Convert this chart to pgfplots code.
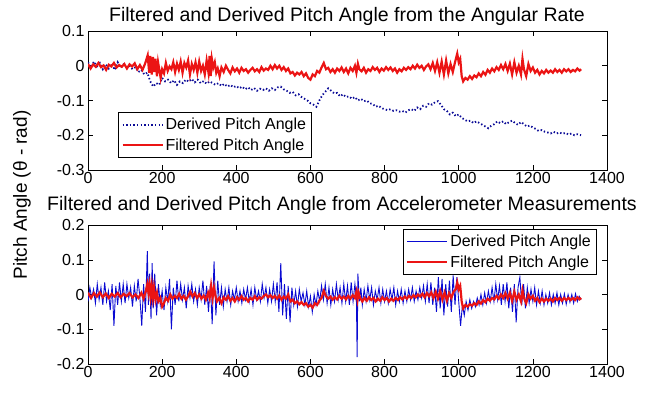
\documentclass[border=0pt]{standalone}
\usepackage{fontspec}
\setmainfont{Liberation Sans}
\usepackage{pgfplots}
\pgfplotsset{compat=1.18}

\definecolor{mred}{RGB}{235,20,20}
\definecolor{mblue}{RGB}{10,10,210}
\definecolor{mnavy}{RGB}{10,10,150}

\pgfplotsset{
  matlab/.style={
    scale only axis,
    width=519pt, height=139pt,
    xmin=0, xmax=1400,
    xtick={0,200,...,1400},
    xticklabels={0,200,400,600,800,1000,1200,1400},
    tick pos=both, tick align=inside,
    major tick length=5pt,
    tick style={black, line width=0.5pt},
    axis line style={line width=0.6pt},
    /pgf/number format/assume math mode=true,
    ticklabel style={font=\fontsize{16}{18}\selectfont},
    xticklabel style={yshift=1pt},
    legend cell align=left,
    legend style={font=\fontsize{16}{18}\selectfont, draw=black, line width=0.6pt,
      inner xsep=3pt, inner ysep=4pt, row sep=3pt},
    legend image code/.code={\draw[#1] (0pt,0pt) -- (40pt,0pt);},
  },
}

\begin{document}
\begin{tikzpicture}[x=1pt,y=1pt]
\path (0,0) rectangle (647,393);

% ---------- top: angular rate ----------
\begin{axis}[matlab,
  at={(88pt,223pt)}, anchor=south west,
  ymin=-0.3, ymax=0.1,
  ytick={-0.3,-0.2,-0.1,0,0.1},
  yticklabels={-0.3,-0.2,-0.1,0,0.1},
  legend style={at={(0.058,0.417)}, anchor=north west},
]
\addplot[mnavy, line width=1.8pt, dash pattern=on 1.4pt off 2.2pt] table {
0 0.01
8 -0.005
16 0.012
24 -0.002
32 0.008
40 -0.01
48 0.004
56 -0.008
64 0.006
72 -0.012
80 0.01
88 -0.006
96 0.004
104 -0.004
112 0.0
120 -0.01
128 -0.004
136 -0.018
144 -0.012
152 -0.025
160 -0.02
168 -0.045
176 -0.06
184 -0.05
192 -0.055
200 -0.035
208 -0.045
216 -0.04
224 -0.05
232 -0.042
240 -0.055
248 -0.045
256 -0.05
264 -0.04
272 -0.046
280 -0.038
288 -0.048
296 -0.04
304 -0.05
312 -0.044
320 -0.052
328 -0.045
336 -0.05
344 -0.055
352 -0.05
360 -0.058
368 -0.052
376 -0.06
384 -0.055
392 -0.062
400 -0.058
408 -0.065
416 -0.06
424 -0.068
432 -0.062
440 -0.07
448 -0.064
456 -0.072
464 -0.066
472 -0.07
480 -0.065
488 -0.072
496 -0.065
504 -0.07
512 -0.062
520 -0.06
528 -0.068
536 -0.072
544 -0.078
552 -0.075
560 -0.085
568 -0.082
576 -0.09
584 -0.095
592 -0.1
600 -0.108
608 -0.112
616 -0.118
624 -0.1
632 -0.085
640 -0.075
648 -0.065
656 -0.072
664 -0.08
672 -0.078
680 -0.088
688 -0.082
696 -0.09
704 -0.088
712 -0.095
720 -0.09
728 -0.1
736 -0.095
744 -0.102
752 -0.1
760 -0.108
768 -0.11
776 -0.118
784 -0.115
792 -0.122
800 -0.125
808 -0.128
816 -0.125
824 -0.13
832 -0.128
840 -0.132
848 -0.13
856 -0.135
864 -0.128
872 -0.125
880 -0.13
888 -0.12
896 -0.125
904 -0.115
912 -0.118
920 -0.108
928 -0.112
936 -0.105
944 -0.102
952 -0.112
960 -0.125
968 -0.13
976 -0.14
984 -0.135
992 -0.145
1000 -0.14
1008 -0.15
1016 -0.155
1024 -0.16
1032 -0.158
1040 -0.165
1048 -0.16
1056 -0.165
1064 -0.17
1072 -0.175
1080 -0.18
1088 -0.172
1096 -0.168
1104 -0.16
1112 -0.165
1120 -0.16
1128 -0.168
1136 -0.162
1144 -0.158
1152 -0.165
1160 -0.17
1168 -0.162
1176 -0.168
1184 -0.175
1192 -0.172
1200 -0.178
1208 -0.182
1216 -0.188
1224 -0.185
1232 -0.19
1240 -0.192
1248 -0.195
1256 -0.19
1264 -0.195
1272 -0.192
1280 -0.196
1288 -0.193
1296 -0.198
1304 -0.195
1312 -0.2
1320 -0.197
1330 -0.2
};
\addlegendentry{Derived Pitch Angle}
\addplot[mred, line width=2.2pt] table {
0 0.005
7 -0.008
14 0.004
21 -0.003
28 0.008
35 -0.004
42 0.001
49 -0.012
56 0.003
63 -0.002
70 0.008
77 -0.005
84 0.002
91 -0.003
98 0.005
105 -0.008
112 0.004
119 -0.002
126 0.007
133 -0.01
140 0.002
147 -0.012
154 0.006
161 0.03
165 -0.02
168 0.028
172 -0.025
175 0.025
179 -0.018
182 0.02
186 -0.03
189 0.01
193 -0.015
196 -0.035
200 -0.01
205 -0.022
210 0.008
215 -0.015
220 -0.002
225 -0.01
230 0.01
235 -0.018
240 0.006
245 -0.012
250 0.012
255 -0.02
260 0.008
265 -0.005
270 0.015
275 -0.025
280 0.005
285 -0.012
290 0.01
295 -0.02
300 0.012
305 -0.015
310 0.0
315 -0.025
320 0.015
325 -0.02
328 0.028
331 -0.03
334 0.02
338 -0.005
342 0.01
346 -0.02
350 -0.008
355 -0.03
360 -0.005
366 -0.018
372 0.0
378 -0.012
384 -0.022
390 -0.005
396 -0.016
402 -0.008
408 -0.02
414 -0.006
420 -0.015
426 -0.01
432 -0.02
438 -0.012
444 -0.006
450 -0.016
456 -0.01
462 -0.018
468 -0.004
474 -0.014
480 -0.008
486 -0.012
492 0.0
498 -0.01
504 0.002
510 -0.008
516 0.0
522 -0.012
528 -0.004
534 -0.015
540 -0.008
546 -0.022
552 -0.018
558 -0.028
564 -0.02
570 -0.025
576 -0.018
582 -0.03
588 -0.022
594 -0.035
600 -0.04
606 -0.025
612 -0.03
618 -0.015
624 -0.02
630 -0.005
636 0.008
642 -0.01
648 -0.006
654 -0.018
660 -0.01
666 -0.02
672 -0.008
678 -0.015
684 -0.005
690 -0.018
696 -0.008
702 -0.022
708 -0.006
714 -0.015
720 0.0
724 -0.02
728 0.006
732 -0.01
738 -0.016
744 -0.006
750 -0.02
756 -0.01
762 -0.015
768 -0.004
774 -0.012
780 -0.006
786 -0.018
792 -0.008
798 -0.014
804 -0.004
810 -0.012
816 -0.005
822 -0.015
828 -0.008
834 -0.02
840 -0.01
846 -0.016
852 -0.006
858 -0.012
864 -0.004
870 -0.01
876 0.0
882 -0.008
888 0.003
894 -0.006
900 0.0
906 -0.012
912 -0.002
918 0.004
924 -0.01
930 0.008
936 -0.015
942 0.01
948 -0.02
954 0.012
960 -0.025
966 0.015
972 -0.022
978 0.005
984 -0.018
990 0.01
996 0.035
1000 0.01
1004 0.02
1008 -0.03
1012 -0.045
1018 -0.035
1024 -0.04
1030 -0.03
1036 -0.038
1042 -0.028
1048 -0.033
1054 -0.022
1060 -0.03
1066 -0.018
1072 -0.026
1078 -0.012
1084 -0.02
1090 -0.008
1096 -0.016
1102 -0.004
1108 -0.012
1114 0.002
1120 -0.01
1126 0.005
1132 -0.015
1138 0.006
1144 -0.025
1150 0.01
1156 -0.02
1162 0.0
1168 -0.025
1172 0.02
1176 -0.01
1182 -0.03
1188 0.005
1194 -0.015
1200 -0.005
1206 -0.02
1212 -0.012
1218 -0.025
1224 -0.015
1230 -0.022
1236 -0.012
1242 -0.02
1248 -0.014
1254 -0.02
1260 -0.01
1266 -0.018
1272 -0.012
1278 -0.02
1284 -0.01
1290 -0.016
1296 -0.01
1302 -0.018
1308 -0.012
1314 -0.016
1320 -0.008
1326 -0.014
1330 -0.01
};
\addlegendentry{Filtered Pitch Angle}
\end{axis}

% ---------- bottom: accelerometer ----------
\begin{axis}[matlab,
  at={(88pt,29pt)}, anchor=south west,
  ymin=-0.2, ymax=0.2,
  ytick={-0.2,-0.1,0,0.1,0.2},
  yticklabels={-0.2,-0.1,0,0.1,0.2},
  legend style={at={(0.979,0.971)}, anchor=north east},
]
\addplot[mblue, line width=0.9pt] table {
0 -0.02
5 0.02
10 -0.01
15 0.015
20 -0.025
25 0.03
30 -0.015
35 0.02
40 -0.03
45 0.035
50 -0.02
55 0.01
60 -0.045
65 0.03
70 -0.09
75 0.025
80 -0.03
85 0.035
90 -0.02
95 0.03
100 -0.025
105 0.03
110 -0.01
115 0.02
120 -0.035
125 0.025
130 -0.02
135 0.045
140 -0.01
145 -0.09
150 0.03
155 -0.05
160 0.125
163 -0.03
166 0.06
170 -0.07
173 0.09
176 -0.04
180 0.06
185 -0.06
190 0.03
195 -0.03
200 0.01
205 -0.045
210 0.02
215 -0.02
220 0.045
225 -0.1
230 0.02
235 -0.03
240 0.04
245 -0.02
250 0.03
255 -0.015
260 0.02
265 -0.04
270 0.025
275 -0.01
280 0.03
285 -0.02
290 0.015
295 -0.03
300 0.02
305 -0.015
310 0.04
315 -0.03
320 0.025
325 -0.05
330 0.03
335 -0.085
340 0.095
345 -0.06
350 0.04
355 -0.03
360 0.02
365 -0.035
370 0.015
375 -0.02
380 0.02
385 -0.03
390 0.01
395 -0.015
400 0.02
405 -0.02
410 0.01
415 -0.025
420 0.015
425 -0.015
430 0.02
435 -0.02
440 0.015
445 -0.03
450 0.02
455 -0.015
460 0.01
465 -0.02
470 0.03
475 -0.01
480 0.02
485 -0.025
490 0.015
495 -0.02
500 0.03
505 -0.02
510 0.035
515 -0.05
520 0.09
525 -0.06
530 0.03
535 -0.07
540 0.025
545 -0.08
550 0.02
555 -0.03
560 0.01
565 -0.035
570 0.015
575 -0.02
580 0.005
585 -0.03
590 0.01
595 -0.035
600 -0.005
605 -0.05
610 0.0
615 -0.03
620 0.01
625 -0.02
630 0.025
635 -0.015
640 0.03
645 -0.025
650 0.02
655 -0.03
660 0.015
665 -0.02
670 0.03
675 -0.015
680 0.02
685 -0.025
690 0.03
695 -0.02
700 0.025
705 -0.03
710 0.035
715 -0.02
720 0.03
724 -0.01
726 -0.18
728 0.06
732 -0.02
736 0.02
740 -0.03
745 0.015
750 -0.02
755 0.025
760 -0.015
765 0.02
770 -0.03
775 0.01
780 -0.015
785 0.02
790 -0.025
795 0.015
800 -0.02
805 0.01
810 -0.025
815 0.015
820 -0.015
825 0.02
830 -0.03
835 0.01
840 -0.02
845 0.015
850 -0.025
855 0.01
860 -0.02
865 0.015
870 -0.015
875 0.02
880 -0.02
885 0.01
890 -0.015
895 0.02
900 -0.01
905 0.025
910 -0.02
915 0.03
920 -0.025
925 0.035
930 -0.03
935 0.02
940 -0.05
945 0.05
950 -0.04
955 0.045
960 -0.06
965 0.03
970 -0.035
975 0.04
980 -0.05
985 0.055
990 -0.03
995 0.05
1000 -0.02
1005 -0.09
1010 -0.03
1015 -0.06
1020 -0.02
1025 -0.045
1030 -0.015
1035 -0.04
1040 -0.02
1045 -0.035
1050 -0.01
1055 -0.03
1060 0.0
1065 -0.03
1070 0.005
1075 -0.025
1080 0.01
1085 -0.02
1090 0.02
1095 -0.02
1100 0.03
1105 -0.015
1110 0.025
1115 -0.03
1120 0.03
1125 -0.02
1130 0.035
1135 -0.04
1140 0.02
1145 -0.05
1150 0.03
1155 -0.08
1160 0.02
1165 0.05
1170 -0.03
1175 0.03
1180 -0.04
1185 0.02
1190 -0.025
1195 0.015
1200 -0.02
1205 0.02
1210 -0.03
1215 0.01
1220 -0.025
1225 0.01
1230 -0.03
1235 0.0
1240 -0.025
1245 0.005
1250 -0.03
1255 0.0
1260 -0.025
1265 0.005
1270 -0.03
1275 0.0
1280 -0.025
1285 0.002
1290 -0.028
1295 0.0
1300 -0.022
1305 0.0
1310 -0.025
1315 0.002
1320 -0.02
1325 -0.005
1330 -0.015
};
\addlegendentry{Derived Pitch Angle}
\addplot[mred, line width=2.2pt] table {
0 0.005
8 -0.01
16 0.004
24 -0.006
32 0.006
40 -0.008
48 0.003
56 -0.01
64 0.002
72 -0.006
80 0.004
88 -0.008
96 0.002
104 -0.005
112 0.004
120 -0.008
128 0.0
136 -0.01
144 0.005
150 -0.012
156 0.01
160 0.03
163 0.005
166 0.028
169 -0.005
172 0.025
175 -0.008
178 0.02
182 -0.015
186 0.005
190 -0.02
195 -0.01
200 -0.035
205 -0.025
210 -0.01
216 -0.018
222 0.0
228 -0.012
234 -0.004
240 -0.01
246 0.002
252 -0.012
258 -0.004
264 -0.015
270 -0.005
276 0.008
282 -0.006
288 0.004
294 -0.01
300 0.0
306 -0.012
312 -0.003
318 -0.015
324 0.005
328 -0.01
332 0.025
336 -0.01
340 0.02
344 -0.005
348 -0.02
354 -0.01
360 -0.025
366 -0.008
372 -0.015
378 -0.005
384 -0.018
390 -0.01
396 -0.02
402 -0.008
408 -0.015
414 -0.005
420 -0.015
426 -0.01
432 -0.02
438 -0.01
444 -0.015
450 -0.005
456 -0.015
462 -0.008
468 -0.012
474 -0.004
480 0.0
486 -0.008
492 -0.002
498 -0.01
504 -0.004
510 -0.012
516 -0.003
522 -0.015
528 -0.006
534 -0.012
540 0.0
546 -0.02
552 -0.015
558 -0.025
564 -0.02
570 -0.028
576 -0.022
582 -0.03
588 -0.025
594 -0.035
600 -0.03
606 -0.038
612 -0.025
618 -0.03
624 -0.018
630 -0.01
636 0.01
642 -0.005
648 -0.012
654 -0.006
660 -0.015
666 -0.008
672 -0.014
678 -0.004
684 -0.012
690 -0.006
696 -0.014
702 -0.004
708 -0.012
714 -0.002
720 -0.01
724 0.008
727 -0.015
730 0.005
734 -0.01
740 -0.02
746 -0.01
752 -0.018
758 -0.008
764 -0.016
770 -0.01
776 -0.02
782 -0.012
788 -0.018
794 -0.008
800 -0.016
806 -0.01
812 -0.02
818 -0.012
824 -0.018
830 -0.01
836 -0.016
842 -0.008
848 -0.014
854 -0.006
860 -0.012
866 -0.004
872 -0.01
878 -0.002
884 -0.008
890 0.0
896 -0.006
902 0.002
908 -0.008
914 0.004
920 -0.005
926 0.006
932 -0.01
938 0.008
944 -0.012
950 0.01
956 -0.015
962 0.006
968 -0.018
974 0.004
980 -0.01
986 0.008
992 0.015
996 0.035
1000 0.015
1004 0.025
1008 -0.02
1012 -0.04
1018 -0.03
1024 -0.035
1030 -0.028
1036 -0.032
1042 -0.025
1048 -0.03
1054 -0.02
1060 -0.026
1066 -0.016
1072 -0.022
1078 -0.012
1084 -0.018
1090 -0.01
1096 -0.014
1102 -0.004
1108 -0.012
1114 0.0
1120 -0.01
1126 0.004
1132 -0.012
1138 0.005
1144 -0.018
1150 0.008
1156 -0.015
1162 0.0
1168 -0.02
1172 0.012
1176 -0.01
1182 -0.025
1188 0.0
1194 -0.012
1200 -0.004
1206 -0.018
1212 -0.01
1218 -0.022
1224 -0.012
1230 -0.02
1236 -0.012
1242 -0.018
1248 -0.012
1254 -0.02
1260 -0.01
1266 -0.016
1272 -0.01
1278 -0.018
1284 -0.01
1290 -0.016
1296 -0.01
1302 -0.016
1308 -0.01
1314 -0.016
1320 -0.008
1326 -0.014
1330 -0.01
};
\addlegendentry{Filtered Pitch Angle}
\end{axis}

% ---------- titles and shared y label ----------
\node[anchor=base, font=\fontsize{19.5}{22}\selectfont] at (347,371)
  {Filtered and Derived Pitch Angle from the Angular Rate};
\node[anchor=base, font=\fontsize{19.5}{22}\selectfont] at (342,182)
  {Filtered and Derived Pitch Angle from Accelerometer Measurements};
\node[rotate=90, font=\fontsize{19}{22}\selectfont] at (22,198)
  {Pitch Angle (θ - rad)};
\end{tikzpicture}
\end{document}
